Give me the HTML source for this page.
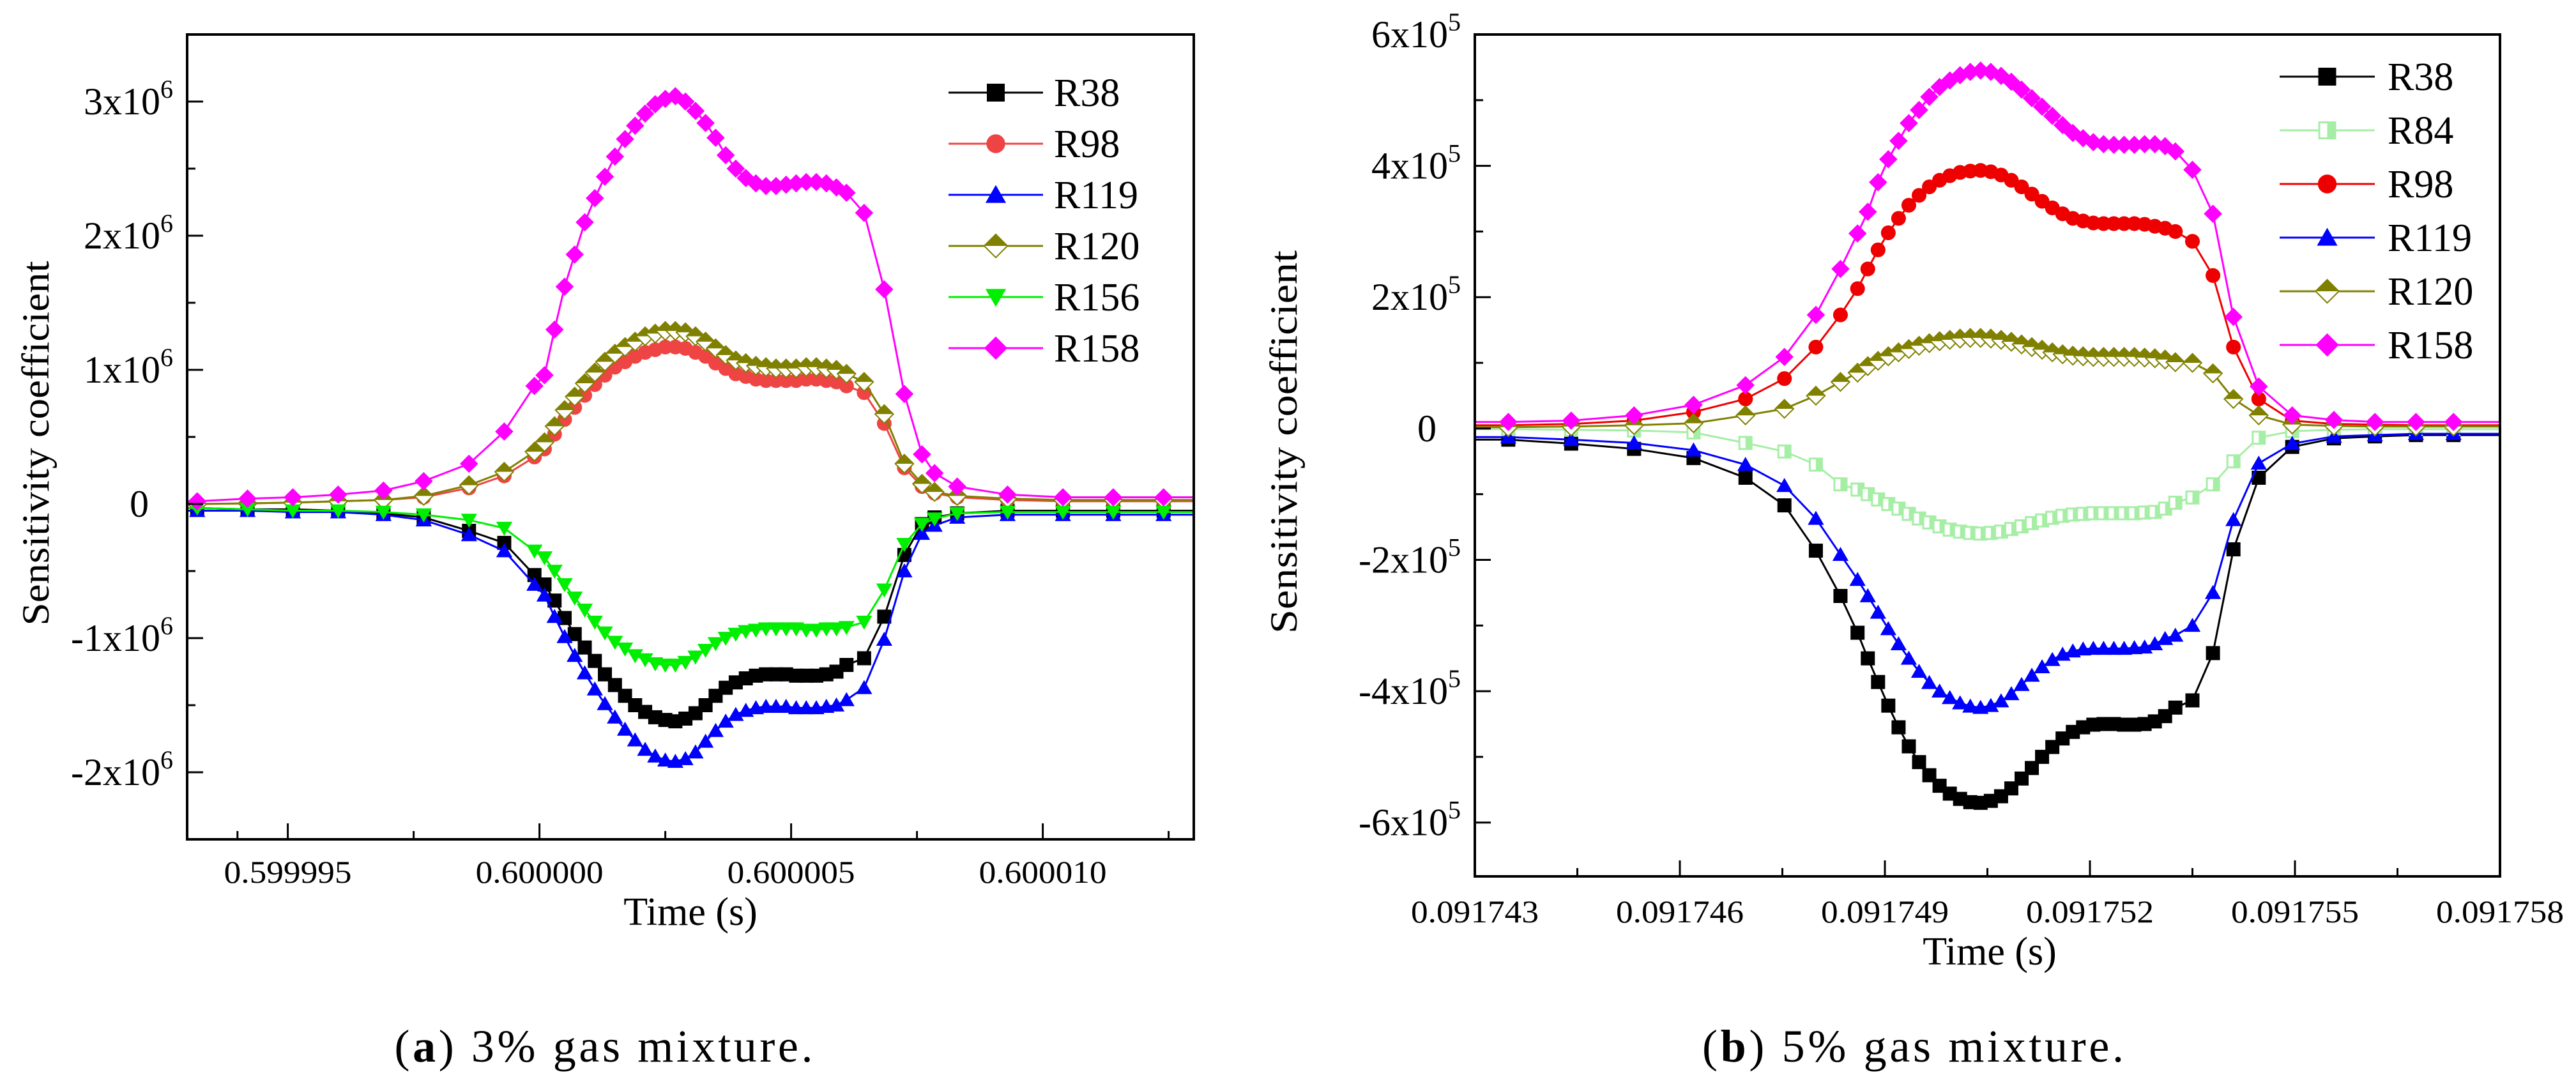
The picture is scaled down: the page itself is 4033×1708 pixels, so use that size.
<!DOCTYPE html>
<html><head><meta charset="utf-8"><style>
html,body{margin:0;padding:0;background:#fff;}
svg, svg text{font-family:"Liberation Serif","DejaVu Serif",serif;}
</style></head><body>
<svg id="fig" width="4033" height="1703" viewBox="0 0 4033 1703" xmlns="http://www.w3.org/2000/svg" font-family="Liberation Serif, DejaVu Serif, serif">
<g id="pa"></g>
<g id="pb"></g>
<text x="945" y="1662" font-size="72" text-anchor="middle" textLength="655">(<tspan font-weight="bold">a</tspan>) 3% gas mixture.</text>
<text x="2995" y="1662" font-size="72" text-anchor="middle" textLength="660">(<tspan font-weight="bold">b</tspan>) 5% gas mixture.</text>
</svg>
<script>
// ---------- Panel A data (time offset in microseconds from 0.6 s, values x1e6) ----------
const aX = [-6.8,-5.8,-4.9,-4.0,-3.1,-2.3,-1.4,-0.7,-0.1,
 0.1,0.3,0.5,0.7,0.9,1.1,1.3,1.5,1.7,1.9,2.1,2.3,2.5,2.7,2.9,3.1,3.3,3.5,3.7,3.9,4.1,4.3,4.5,4.7,4.9,5.1,5.3,5.5,5.7,5.9,6.1,
 6.45,6.85,7.25,7.6,7.85,8.3,9.3,10.4,11.4,12.4];
const aR38 = [-0.03,-0.04,-0.04,-0.05,-0.07,-0.1,-0.2,-0.29,-0.53,
 -0.6,-0.72,-0.85,-0.97,-1.07,-1.17,-1.27,-1.35,-1.43,-1.5,-1.55,-1.59,-1.61,-1.62,-1.6,-1.56,-1.5,-1.43,-1.37,-1.33,-1.3,-1.28,-1.27,-1.27,-1.27,-1.28,-1.28,-1.28,-1.27,-1.25,-1.2,
 -1.15,-0.84,-0.38,-0.15,-0.1,-0.07,-0.05,-0.05,-0.05,-0.05];
const aR98 = [0,0.005,0.01,0.02,0.03,0.05,0.12,0.21,0.35,
 0.41,0.52,0.63,0.72,0.81,0.89,0.96,1.02,1.06,1.1,1.13,1.15,1.17,1.17,1.16,1.13,1.1,1.05,1.01,0.97,0.95,0.93,0.92,0.92,0.92,0.92,0.93,0.93,0.92,0.91,0.88,
 0.83,0.6,0.27,0.13,0.08,0.05,0.03,0.02,0.02,0.02];
const aR119 = [-0.05,-0.05,-0.06,-0.06,-0.08,-0.12,-0.23,-0.35,-0.6,
 -0.68,-0.84,-0.99,-1.13,-1.26,-1.38,-1.49,-1.59,-1.68,-1.76,-1.83,-1.88,-1.91,-1.92,-1.9,-1.85,-1.77,-1.69,-1.62,-1.57,-1.54,-1.52,-1.51,-1.51,-1.51,-1.52,-1.52,-1.52,-1.51,-1.5,-1.46,
 -1.37,-1.01,-0.5,-0.22,-0.16,-0.1,-0.08,-0.08,-0.08,-0.08];
const aR120 = [0,0.005,0.01,0.02,0.03,0.06,0.14,0.24,0.39,
 0.46,0.58,0.7,0.8,0.9,0.98,1.06,1.12,1.17,1.21,1.25,1.27,1.29,1.29,1.28,1.25,1.21,1.16,1.11,1.07,1.05,1.03,1.02,1.01,1.01,1.01,1.02,1.02,1.01,1.0,0.97,
 0.91,0.67,0.3,0.15,0.09,0.06,0.04,0.03,0.03,0.03];
const aR156 = [-0.03,-0.04,-0.05,-0.05,-0.06,-0.08,-0.12,-0.18,-0.35,
 -0.4,-0.5,-0.6,-0.7,-0.79,-0.88,-0.96,-1.03,-1.08,-1.13,-1.16,-1.19,-1.2,-1.2,-1.18,-1.14,-1.09,-1.04,-1.0,-0.97,-0.95,-0.94,-0.93,-0.93,-0.93,-0.93,-0.94,-0.94,-0.93,-0.93,-0.92,
 -0.88,-0.64,-0.3,-0.15,-0.11,-0.07,-0.06,-0.06,-0.06,-0.06];
const aR158 = [0.02,0.04,0.05,0.07,0.1,0.17,0.3,0.54,0.88,
 0.96,1.3,1.62,1.86,2.1,2.28,2.44,2.59,2.72,2.82,2.91,2.98,3.02,3.04,3.0,2.93,2.84,2.73,2.6,2.5,2.43,2.39,2.37,2.37,2.38,2.39,2.4,2.4,2.39,2.36,2.32,
 2.17,1.6,0.82,0.37,0.23,0.13,0.07,0.05,0.05,0.05];
const aXTicks = [-5,0,5,10];
const aXTickLabels = ["0.599995","0.600000","0.600005","0.600010"];
const aYTicks = [-2,-1,0,1,2,3];
const aYTickLabels = [["-2x10","6"],["-1x10","6"],["0",""],["1x10","6"],["2x10","6"],["3x10","6"]];

// ---------- Panel B data (time offset in microseconds from 0.091743 s, values x1e5) ----------
const bX = [0.49,1.41,2.33,3.2,3.96,4.53,4.99,5.35,
 5.6,5.75,5.9,6.05,6.2,6.35,6.5,6.65,6.8,6.95,7.1,7.25,7.4,7.55,7.7,7.85,8.0,8.15,8.3,8.45,8.6,8.75,8.9,9.05,9.2,9.35,9.5,9.65,9.8,9.95,10.1,10.25,
 10.5,10.8,11.1,11.47,11.96,12.57,13.17,13.77,14.32];
const bR38 = [-0.17,-0.23,-0.31,-0.45,-0.75,-1.17,-1.86,-2.55,
 -3.11,-3.5,-3.86,-4.22,-4.55,-4.84,-5.08,-5.28,-5.44,-5.56,-5.64,-5.69,-5.7,-5.67,-5.6,-5.48,-5.33,-5.17,-5.0,-4.85,-4.72,-4.62,-4.55,-4.51,-4.5,-4.5,-4.51,-4.51,-4.5,-4.46,-4.38,-4.25,
 -4.14,-3.42,-1.84,-0.75,-0.28,-0.15,-0.12,-0.1,-0.1];
const bR84 = [-0.01,-0.02,-0.03,-0.06,-0.22,-0.35,-0.55,-0.85,
 -0.93,-1.0,-1.08,-1.15,-1.22,-1.3,-1.37,-1.43,-1.49,-1.54,-1.57,-1.59,-1.6,-1.59,-1.57,-1.53,-1.49,-1.44,-1.4,-1.36,-1.33,-1.31,-1.3,-1.29,-1.29,-1.29,-1.29,-1.29,-1.28,-1.27,-1.22,-1.13,
 -1.05,-0.85,-0.5,-0.14,-0.04,-0.02,-0.01,-0.01,-0.01];
const bR98 = [0.05,0.07,0.12,0.25,0.45,0.76,1.24,1.73,
 2.13,2.43,2.72,2.98,3.2,3.4,3.55,3.68,3.78,3.85,3.9,3.92,3.93,3.91,3.86,3.78,3.68,3.57,3.46,3.36,3.27,3.2,3.16,3.13,3.12,3.12,3.12,3.12,3.11,3.08,3.05,3.0,
 2.85,2.33,1.24,0.45,0.12,0.07,0.06,0.05,0.05];
const bR119 = [-0.13,-0.17,-0.22,-0.33,-0.55,-0.87,-1.37,-1.92,
 -2.3,-2.55,-2.8,-3.05,-3.28,-3.5,-3.7,-3.87,-4.0,-4.1,-4.18,-4.23,-4.25,-4.22,-4.15,-4.04,-3.9,-3.76,-3.63,-3.52,-3.44,-3.39,-3.36,-3.35,-3.35,-3.35,-3.35,-3.34,-3.33,-3.28,-3.2,-3.15,
 -3.0,-2.5,-1.39,-0.53,-0.23,-0.12,-0.1,-0.08,-0.08];
const bR120 = [0.02,0.03,0.05,0.08,0.2,0.3,0.5,0.71,
 0.85,0.95,1.03,1.1,1.16,1.21,1.26,1.3,1.33,1.35,1.37,1.38,1.38,1.37,1.35,1.32,1.28,1.24,1.2,1.16,1.13,1.11,1.1,1.09,1.09,1.09,1.09,1.09,1.08,1.07,1.05,1.01,
 1.0,0.84,0.45,0.2,0.06,0.04,0.03,0.03,0.03];
const bR158 = [0.1,0.12,0.2,0.36,0.66,1.09,1.73,2.43,
 2.97,3.3,3.75,4.1,4.38,4.65,4.85,5.05,5.2,5.3,5.38,5.43,5.45,5.43,5.37,5.28,5.16,5.03,4.9,4.76,4.62,4.5,4.42,4.36,4.33,4.32,4.32,4.32,4.33,4.33,4.3,4.22,
 3.94,3.27,1.7,0.64,0.2,0.13,0.1,0.1,0.1];
const bXTicks = [0,3,6,9,12,15];
const bXTickLabels = ["0.091743","0.091746","0.091749","0.091752","0.091755","0.091758"];
const bYTicks = [-6,-4,-2,0,2,4,6];
const bYTickLabels = [["-6x10","5"],["-4x10","5"],["-2x10","5"],["0",""],["2x10","5"],["4x10","5"],["6x10","5"]];

const NS = "http://www.w3.org/2000/svg";
function mk(tag, attrs, parent){ const e=document.createElementNS(NS,tag); for(const k in attrs) e.setAttribute(k,attrs[k]); parent.appendChild(e); return e; }

function marker(g, type, cx, cy, color, s){
  let e;
  const h=s/2;
  if(type==="square"){ e=mk("rect",{x:cx-h,y:cy-h,width:s,height:s,fill:color},g); }
  else if(type==="circle"){ e=mk("circle",{cx:cx,cy:cy,r:h*1.05,fill:color},g); }
  else if(type==="tri"){ e=mk("polygon",{points:`${cx},${cy-h*1.1} ${cx+h*1.15},${cy+h*0.9} ${cx-h*1.15},${cy+h*0.9}`,fill:color},g); }
  else if(type==="tridown"){ e=mk("polygon",{points:`${cx},${cy+h*1.1} ${cx+h*1.15},${cy-h*0.9} ${cx-h*1.15},${cy-h*0.9}`,fill:color},g); }
  else if(type==="diamond"){ e=mk("polygon",{points:`${cx},${cy-h*1.3} ${cx+h*1.3},${cy} ${cx},${cy+h*1.3} ${cx-h*1.3},${cy}`,fill:color},g); }
  else if(type==="halfdiamond"){
    e=mk("g",{},g);
    mk("polygon",{points:`${cx},${cy-h*1.3} ${cx+h*1.3},${cy} ${cx},${cy+h*1.3} ${cx-h*1.3},${cy}`,fill:"#fff",stroke:color,"stroke-width":2},e);
    mk("polygon",{points:`${cx},${cy-h*1.3} ${cx+h*1.3},${cy} ${cx-h*1.3},${cy}`,fill:color},e);
  }
  else if(type==="opensquare"){
    e=mk("g",{},g);
    mk("rect",{x:cx-h+1.5,y:cy-h+1.5,width:s-3,height:s-3,fill:"#fff",stroke:color,"stroke-width":3},e);
    mk("rect",{x:cx,y:cy-h+1.5,width:h-1.5,height:s-3,fill:color},e);
  }
  return e;
}

function drawPanel(gid, cfg){
  const g=document.getElementById(gid);
  const L=cfg.L,R=cfg.R,T=cfg.T,B=cfg.B;
  const xs=v=>L+(v-cfg.x0)/(cfg.x1-cfg.x0)*(R-L);
  const ys=v=>B-(v-cfg.y0)/(cfg.y1-cfg.y0)*(B-T);
  const plot=mk("g",{},g);
  
  
  cfg.series.forEach(s=>{
    const sg=mk("g",{},plot);
    
    
    const pts=cfg.xData.map((x,i)=>xs(x).toFixed(1)+","+ys(s.data[i]).toFixed(1));
    const startY=ys(s.data[0]), endY=ys(s.data[s.data.length-1]);
    const allPts=[L+","+startY.toFixed(1)].concat(pts,[R+","+endY.toFixed(1)]);
    const pl=mk("polyline",{points:allPts.join(" "),fill:"none",stroke:s.line||s.color,"stroke-width":3},sg);
    
    
    cfg.xData.forEach((x,i)=>{
      const m=marker(sg,s.type,xs(x),ys(s.data[i]),s.color,cfg.ms);
      
      
    });
  });
  const fr=mk("rect",{x:L,y:T,width:R-L,height:B-T,fill:"none",stroke:"#000","stroke-width":4},g);
  
  
  const xa=mk("g",{},g);
  
  
  cfg.xMinor.forEach(v=>{ mk("line",{x1:xs(v),x2:xs(v),y1:B,y2:B-13,stroke:"#000","stroke-width":3},xa); });
  cfg.xTicks.forEach((v,i)=>{
    mk("line",{x1:xs(v),x2:xs(v),y1:B,y2:B-25,stroke:"#000","stroke-width":3},xa);
    const t=mk("text",{x:xs(v),y:cfg.xLabY,"font-size":50,"text-anchor":"middle",textLength:200,lengthAdjust:"spacingAndGlyphs"},xa);
    t.textContent=cfg.xLabels[i];
    
    
  });
  const xt=mk("text",{x:cfg.xTitleX,y:cfg.xTitleY,"font-size":62,"text-anchor":"middle"},xa);
  xt.textContent="Time (s)";
  
  
  const ya=mk("g",{},g);
  
  
  cfg.yMinor.forEach(v=>{ mk("line",{x1:L,x2:L+13,y1:ys(v),y2:ys(v),stroke:"#000","stroke-width":3},ya); });
  cfg.yTicks.forEach((v,i)=>{
    mk("line",{x1:L,x2:L+25,y1:ys(v),y2:ys(v),stroke:"#000","stroke-width":3},ya);
    const lab=cfg.yLabels[i];
    const t=mk("text",{x:L-22,y:ys(v)+20,"font-size":60,"text-anchor":"end"},ya);
    
    
    if(lab[1]){
      t.appendChild(document.createTextNode(lab[0]));
      const sp=mk("tspan",{dy:-26,"font-size":40},t); sp.textContent=lab[1];
    } else { t.setAttribute("x",L-60); t.textContent=lab[0]; }
  });
  const yt=mk("text",{x:0,y:0,"font-size":60,"text-anchor":"middle",transform:`translate(${cfg.yTitleX},${cfg.yTitleY}) rotate(-90)`,textLength:cfg.yTitleLen,lengthAdjust:"spacingAndGlyphs"},ya);
  yt.textContent="Sensitivity coefficient";
  
  
  const lg=mk("g",{},g);
  
  
  cfg.series.forEach((s,i)=>{
    const y=cfg.legY+i*cfg.legDy;
    const eg=mk("g",{},lg);
    
    
    mk("line",{x1:cfg.legX1,x2:cfg.legX2,y1:y,y2:y,stroke:s.line||s.color,"stroke-width":3},eg);
    marker(eg,s.type,(cfg.legX1+cfg.legX2)/2,y,s.color,cfg.ms+6);
    const t=mk("text",{x:cfg.legTX,y:y+21,"font-size":62},eg);
    t.textContent=s.name;
  });
}

drawPanel("pa",{
  L:293,R:1869,T:54,B:1314,x0:-7,x1:13,y0:-2.5,y1:3.5,ms:22,
  xData:aX,
  series:[
    {name:"R38",data:aR38,color:"#000000",type:"square"},
    {name:"R98",data:aR98,color:"#ef4444",type:"circle"},
    {name:"R119",data:aR119,color:"#0000ff",type:"tri"},
    {name:"R120",data:aR120,color:"#808000",type:"halfdiamond"},
    {name:"R156",data:aR156,color:"#00ee00",type:"tridown"},
    {name:"R158",data:aR158,color:"#ff00ff",type:"diamond"}
  ],
  xTicks:aXTicks,xLabels:aXTickLabels,xMinor:[-6,-2.5,2.5,7.5,12.5].filter(v=>v>-7),
  yTicks:aYTicks,yLabels:aYTickLabels,yMinor:[-2.5,-1.5,-0.5,0.5,1.5,2.5],
  xLabY:1382,xTitleX:1081,xTitleY:1448,
  yTitleX:76,yTitleY:694,yTitleLen:571,
  legX1:1485,legX2:1633,legTX:1650,legY:145,legDy:80
});
drawPanel("pb",{
  L:2309,R:3914,T:54,B:1372,x0:0,x1:15,y0:-6.82,y1:6,ms:22,
  xData:bX,
  series:[
    {name:"R38",data:bR38,color:"#000000",type:"square"},
    {name:"R84",data:bR84,color:"#a6eea6",type:"opensquare"},
    {name:"R98",data:bR98,color:"#ee0000",type:"circle"},
    {name:"R119",data:bR119,color:"#0000ff",type:"tri"},
    {name:"R120",data:bR120,color:"#808000",type:"halfdiamond"},
    {name:"R158",data:bR158,color:"#ff00ff",type:"diamond"}
  ],
  xTicks:bXTicks,xLabels:bXTickLabels,xMinor:[1.5,4.5,7.5,10.5,13.5],
  yTicks:bYTicks,yLabels:bYTickLabels,yMinor:[-5,-3,-1,1,3,5],
  xLabY:1444,xTitleX:3115,xTitleY:1510,
  yTitleX:2030,yTitleY:692,yTitleLen:600,
  legX1:3569,legX2:3718,legTX:3738,legY:120,legDy:84
});
</script>
</body></html>
